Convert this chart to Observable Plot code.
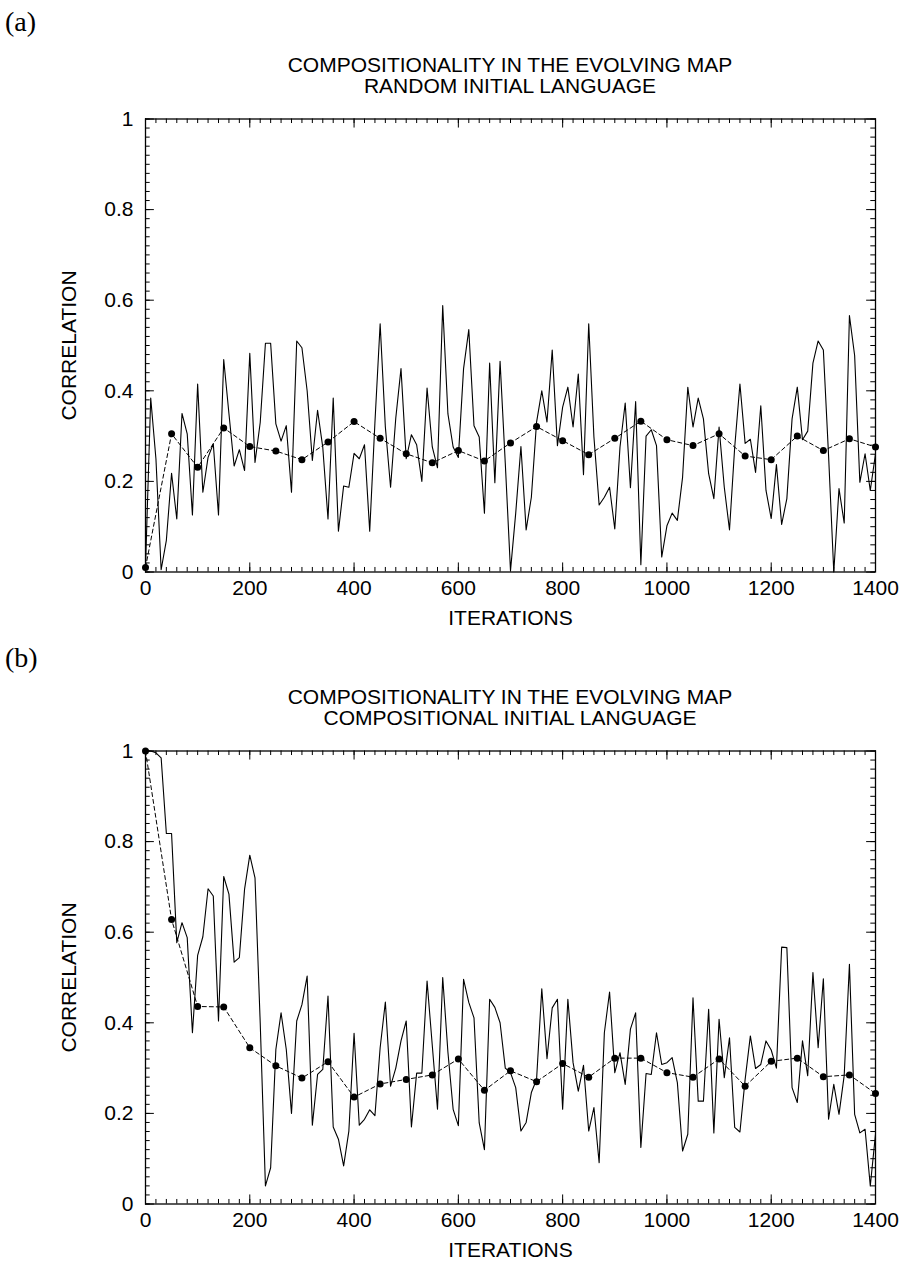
<!DOCTYPE html>
<html><head><meta charset="utf-8">
<script src="https://cdn.jsdelivr.net/npm/d3@7"></script>
<script src="https://cdn.jsdelivr.net/npm/@observablehq/plot@0.6"></script>
<style>
body{margin:0;background:#fff;}
#wrap{position:relative;width:902px;height:1270px;overflow:hidden;font-family:"Liberation Sans",Arial,sans-serif;color:#000;}
.tag{position:absolute;left:5px;font-family:"Liberation Serif","DejaVu Serif",serif;font-size:28px;line-height:28px;z-index:2;}
.title{position:absolute;left:145px;width:730px;text-align:center;font-size:21px;line-height:21px;z-index:2;}
.panel{position:absolute;left:0;z-index:1;}
</style></head>
<body>
<div id="wrap">
  <div class="tag" style="top:8px">(a)</div>
  <div class="title" style="top:54px">COMPOSITIONALITY IN THE EVOLVING MAP<br>RANDOM INITIAL LANGUAGE</div>
  <div class="tag" style="top:644px">(b)</div>
  <div class="title" style="top:686px">COMPOSITIONALITY IN THE EVOLVING MAP<br>COMPOSITIONAL INITIAL LANGUAGE</div>
</div>
<script>
// Iterations (solid curve sampled every 10, dashed average every 50)
const SOLID_ITER = d3.range(0, 1401, 10);
const DASH_ITER = d3.range(0, 1401, 50);

// Panel (a): random initial language
const A_SOLID = [
  0.01, 0.384, 0.25, 0.005, 0.07, 0.218, 0.117, 0.35, 0.305, 0.126,
  0.415, 0.176, 0.253, 0.283, 0.126, 0.469, 0.35, 0.234, 0.27, 0.224,
  0.483, 0.242, 0.33, 0.505, 0.505, 0.327, 0.289, 0.323, 0.176, 0.51,
  0.495, 0.4, 0.246, 0.357, 0.275, 0.117, 0.384, 0.09, 0.19, 0.187,
  0.262, 0.25, 0.281, 0.09, 0.33, 0.548, 0.32, 0.187, 0.34, 0.449,
  0.25, 0.303, 0.281, 0.2, 0.406, 0.276, 0.23, 0.588, 0.349, 0.276,
  0.253, 0.449, 0.535, 0.323, 0.298, 0.13, 0.461, 0.197, 0.465, 0.24,
  0.003, 0.13, 0.277, 0.093, 0.165, 0.331, 0.4, 0.331, 0.49, 0.279,
  0.364, 0.408, 0.32, 0.437, 0.215, 0.548, 0.298, 0.148, 0.165, 0.187,
  0.095, 0.276, 0.373, 0.186, 0.376, 0.016, 0.3, 0.314, 0.279, 0.033,
  0.102, 0.13, 0.114, 0.209, 0.408, 0.32, 0.384, 0.338, 0.217, 0.162,
  0.32, 0.187, 0.093, 0.276, 0.415, 0.284, 0.293, 0.22, 0.367, 0.18,
  0.118, 0.237, 0.105, 0.162, 0.338, 0.408, 0.292, 0.311, 0.461, 0.51,
  0.49, 0.257, 0.0, 0.184, 0.108, 0.566, 0.478, 0.198, 0.261, 0.18,
  0.261
];
const A_DASH = [
  0.01, 0.305, 0.231, 0.318, 0.277, 0.267, 0.248, 0.287, 0.332, 0.295,
  0.261, 0.241, 0.268, 0.245, 0.285, 0.321, 0.29, 0.259, 0.295, 0.333,
  0.292, 0.279, 0.305, 0.256, 0.248, 0.3, 0.268, 0.294, 0.276
];

// Panel (b): compositional initial language
const B_SOLID = [
  1.0, 1.0, 0.996, 0.985, 0.818, 0.818, 0.577, 0.621, 0.588, 0.378,
  0.549, 0.59, 0.696, 0.68, 0.404, 0.723, 0.684, 0.534, 0.544, 0.695,
  0.77, 0.72, 0.4, 0.04, 0.08, 0.341, 0.422, 0.341, 0.2, 0.404,
  0.44, 0.503, 0.174, 0.286, 0.297, 0.459, 0.17, 0.143, 0.084, 0.161,
  0.377, 0.174, 0.187, 0.208, 0.195, 0.345, 0.446, 0.26, 0.3, 0.36,
  0.404, 0.17, 0.289, 0.289, 0.492, 0.35, 0.209, 0.5, 0.335, 0.209,
  0.173, 0.496, 0.445, 0.411, 0.179, 0.12, 0.452, 0.434, 0.4, 0.3,
  0.29, 0.257, 0.161, 0.18, 0.246, 0.275, 0.475, 0.321, 0.433, 0.452,
  0.209, 0.452, 0.312, 0.249, 0.306, 0.161, 0.213, 0.091, 0.378, 0.468,
  0.29, 0.334, 0.264, 0.386, 0.422, 0.125, 0.288, 0.286, 0.378, 0.308,
  0.312, 0.323, 0.268, 0.117, 0.154, 0.455, 0.227, 0.227, 0.43, 0.157,
  0.408, 0.279, 0.367, 0.169, 0.159, 0.275, 0.371, 0.299, 0.308, 0.36,
  0.34, 0.3, 0.567, 0.566, 0.257, 0.224, 0.36, 0.283, 0.511, 0.345,
  0.497, 0.187, 0.264, 0.198, 0.284, 0.529, 0.198, 0.157, 0.165, 0.04,
  0.154
];
const B_DASH = [
  1.0, 0.628, 0.436, 0.435, 0.345, 0.305, 0.278, 0.314, 0.236, 0.265,
  0.275, 0.285, 0.32, 0.251, 0.294, 0.27, 0.31, 0.28, 0.322, 0.322,
  0.29, 0.28, 0.32, 0.26, 0.315, 0.322, 0.281, 0.285, 0.244
];

// Axis tick labels
const X_TICKS = [0, 200, 400, 600, 800, 1000, 1200, 1400];
const Y_TICKS = [0, 0.2, 0.4, 0.6, 0.8, 1];
const X_MINOR = d3.range(0, 1401, 20);
const Y_MINOR = d3.range(0, 51).map(i => i / 50);
const X_LABEL = "ITERATIONS";
const Y_LABEL = "CORRELATION";

function makePanel(solidVals, dashVals) {
  const solid = solidVals.map((v, i) => ({it: SOLID_ITER[i], v}));
  const dash = dashVals.map((v, i) => ({it: DASH_ITER[i], v}));
  const MT = 118.5, FH = 453, H = 632;
  return Plot.plot({
    width: 902, height: H,
    marginLeft: 145, marginRight: 27, marginTop: MT, marginBottom: H - MT - FH,
    x: {domain: [0, 1400]},
    y: {domain: [0, 1]},
    style: {fontFamily: "'Liberation Sans', Arial, sans-serif", fontSize: "21px", color: "black", background: "white", overflow: "visible"},
    marks: [
      // minor ticks (inward, all four sides)
      Plot.ruleX(X_MINOR, {y1: 0, y2: 0.01, stroke: "black"}),
      Plot.ruleX(X_MINOR, {y1: 1, y2: 0.99, stroke: "black"}),
      Plot.ruleY(Y_MINOR, {x1: 0, x2: 9, stroke: "black"}),
      Plot.ruleY(Y_MINOR, {x1: 1400, x2: 1391, stroke: "black"}),
      // major ticks
      Plot.ruleX(X_TICKS, {y1: 0, y2: 0.02, stroke: "black"}),
      Plot.ruleX(X_TICKS, {y1: 1, y2: 0.98, stroke: "black"}),
      Plot.ruleY(Y_TICKS, {x1: 0, x2: 17, stroke: "black"}),
      Plot.ruleY(Y_TICKS, {x1: 1400, x2: 1383, stroke: "black"}),
      Plot.axisX({ticks: X_TICKS, tickSize: 0, tickPadding: 8, tickFormat: d => String(d),
        label: X_LABEL, labelAnchor: "center", labelOffset: 53, labelArrow: "none"}),
      Plot.axisY({ticks: Y_TICKS, tickSize: 0, tickPadding: 12, tickFormat: d => String(d),
        label: Y_LABEL, labelAnchor: "center", labelOffset: 84, labelArrow: "none"}),
      Plot.line(solid, {x: "it", y: "v", stroke: "black", strokeWidth: 1.1}),
      Plot.line(dash, {x: "it", y: "v", stroke: "black", strokeWidth: 1, strokeDasharray: "4,3"}),
      Plot.dot(dash, {x: "it", y: "v", r: 3.5, fill: "black", stroke: "none"}),
      Plot.frame({stroke: "black", strokeWidth: 1.3})
    ]
  });
}

const wrap = document.getElementById("wrap");
const pa = makePanel(A_SOLID, A_DASH);
pa.classList.add("panel"); pa.style.top = "0px";
wrap.appendChild(pa);
const pb = makePanel(B_SOLID, B_DASH);
pb.classList.add("panel"); pb.style.top = "631.5px";
wrap.appendChild(pb);
</script>
</body></html>
